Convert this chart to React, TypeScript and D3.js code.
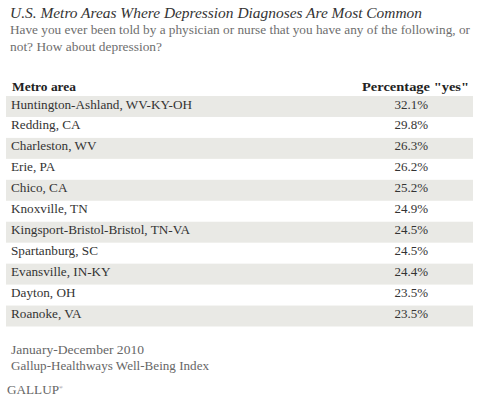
import React from "react";
import * as d3 from "d3";

const title = "U.S. Metro Areas Where Depression Diagnoses Are Most Common";
const subtitleLines = [
  "Have you ever been told by a physician or nurse that you have any of the following, or",
  "not? How about depression?",
];
const headerLabel = "Metro area";
const headerValue = 'Percentage "yes"';
const metros = [
  "Huntington-Ashland, WV-KY-OH",
  "Redding, CA",
  "Charleston, WV",
  "Erie, PA",
  "Chico, CA",
  "Knoxville, TN",
  "Kingsport-Bristol-Bristol, TN-VA",
  "Spartanburg, SC",
  "Evansville, IN-KY",
  "Dayton, OH",
  "Roanoke, VA",
];
const pctYes = [32.1, 29.8, 26.3, 26.2, 25.2, 24.9, 24.5, 24.5, 24.4, 23.5, 23.5];
const footnotes = ["January-December 2010", "Gallup-Healthways Well-Being Index"];
const brand = "GALLUP";

const W = 480;
const H = 407;
const FONT = "'Liberation Serif', 'DejaVu Serif', serif";

export default function App() {
  const y = d3.scaleBand<string>().domain(metros).range([96, 326.5]).paddingInner(0).paddingOuter(0);
  const fmt = (v: number) => d3.format(".1f")(v) + "%";
  const left = 6;
  const right = 473;
  const footLens = [133, 198];
  return (
    <svg
      width={W}
      height={H}
      viewBox={`0 0 ${W} ${H}`}
      style={{ position: "absolute", left: 0, top: 0, background: "#fff" }}
      fontFamily={FONT}
    >
      <rect x={0} y={0} width={W} height={H} fill="#fff" />
      <text x={10} y={18} fontSize={14.5} fontStyle="italic" fill="#333" textLength={412} lengthAdjust="spacingAndGlyphs">
        {title}
      </text>
      {subtitleLines.map((s, i) => (
        <text
          key={i}
          x={10}
          y={33.5 + i * 17}
          fontSize={12.8}
          fill="#6e6e6e"
          textLength={i === 0 ? 460 : 152}
          lengthAdjust="spacingAndGlyphs"
        >
          {s}
        </text>
      ))}
      <text x={12} y={91} fontSize={13.2} fontWeight="bold" fill="#222" textLength={64} lengthAdjust="spacingAndGlyphs">
        {headerLabel}
      </text>
      <text x={362} y={91} fontSize={13.2} fontWeight="bold" fill="#222" textLength={107} lengthAdjust="spacingAndGlyphs">
        {headerValue}
      </text>
      {metros.map((m, i) => {
        const yy = y(m)!;
        return (
          <g key={m}>
            {i % 2 === 0 && (
              <rect x={left} y={yy} width={right - left} height={y.bandwidth()} fill="#e9e9e5" />
            )}
            <text x={11} y={yy + 12.5} fontSize={13.2} fill="#333">
              {m}
            </text>
            <text x={428} y={yy + 12.5} fontSize={13} fill="#333" textAnchor="end">
              {fmt(pctYes[i])}
            </text>
          </g>
        );
      })}
      {footnotes.map((f, i) => (
        <text
          key={f}
          x={11}
          y={354 + i * 16}
          fontSize={13}
          fill="#666"
          textLength={footLens[i]}
          lengthAdjust="spacingAndGlyphs"
        >
          {f}
        </text>
      ))}
      <text x={7} y={394} fontSize={12.5} fill="#666">
        <tspan textLength={52} lengthAdjust="spacingAndGlyphs">{brand}</tspan>
        <tspan fontSize={5} dy={-5}>®</tspan>
      </text>
    </svg>
  );
}
